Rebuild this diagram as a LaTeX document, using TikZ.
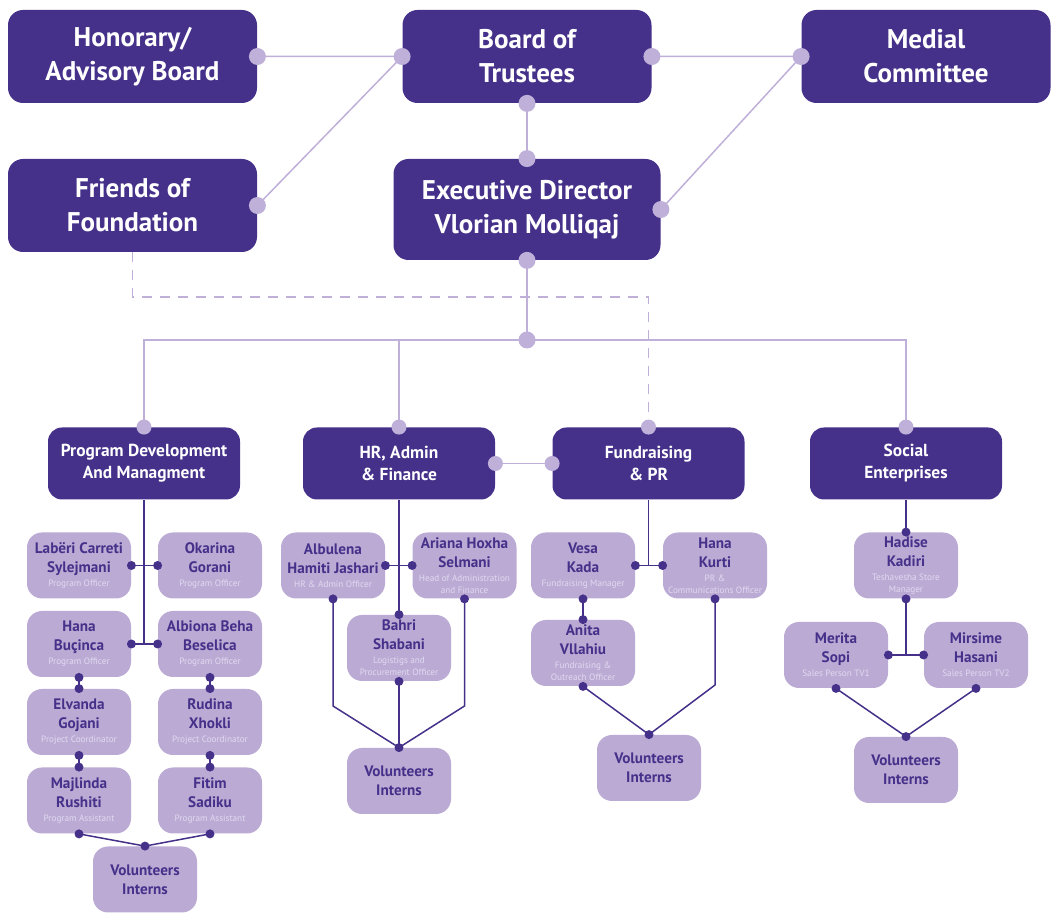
\documentclass[tikz,border=0pt]{standalone}
\usepackage{fontspec}
\setmainfont{PT Sans}
\usetikzlibrary{positioning}
\definecolor{boxdark}{HTML}{45318A}
\definecolor{boxlight}{HTML}{BBABD4}
\definecolor{linelight}{HTML}{BEB0D8}
\definecolor{rolegrey}{HTML}{E0D9F0}
\newcommand{\rl}{\fontsize{4.6}{6}\selectfont\mdseries\color{rolegrey}}
\newcommand{\who}[2]{#1\\[-2.5pt]\rl #2}

\begin{document}
\begin{tikzpicture}[x=0.5pt,y=-0.5pt,
    topbox/.style={fill=boxdark, text=white, rounded corners=7.5pt, minimum width=124.5pt, minimum height=46.5pt, align=center, inner sep=0pt, font=\fontsize{13.5}{17}\selectfont\bfseries},
    deptbox/.style={fill=boxdark, text=white, rounded corners=7pt, minimum width=96pt, minimum height=36pt, align=center, inner sep=0pt, font=\fontsize{8.7}{11}\selectfont\bfseries},
    staffbox/.style={fill=boxlight, text=boxdark, rounded corners=7.5pt, minimum width=52pt, minimum height=33pt, align=center, inner sep=0pt, font=\fontsize{7.6}{9.5}\selectfont\bfseries},
    lightline/.style={draw=linelight, line width=0.75pt},
    darkline/.style={draw=boxdark, line width=0.75pt},
    dashline/.style={draw=linelight, line width=0.75pt, dash pattern=on 5pt off 4pt},
    lightdot/.style={fill=linelight},
    darkdot/.style={fill=boxdark}
    ]
\useasboundingbox (0,0) rectangle (1051,913);

\node[topbox] (hab) at (132.5,56.5) {Honorary/\\Advisory Board};
\node[topbox] (bot) at (527,56.5) {Board of\\Trustees};
\node[topbox] (mcm) at (926,56.5) {Medial\\Committee};
\node[topbox] (fof) at (132.5,205.5) {Friends of\\Foundation};
\node[topbox, minimum width=133.5pt, minimum height=50.5pt] (exd) at (527,209.5) {Executive Director\\Vlorian Molliqaj};

\node[deptbox] (pdm) at (144,463.5) {Program Development\\And Managment};
\node[deptbox] (haf) at (399,463.5) {HR, Admin\\\& Finance};
\node[deptbox] (fpr) at (648.5,463.5) {Fundraising\\\& PR};
\node[deptbox] (sen) at (906,463.5) {Social\\Enterprises};

\node[staffbox] (lcs) at (79,565.5) {\who{Labëri Carreti\\Sylejmani}{Program Officer}};
\node[staffbox] (oga) at (210,565.5) {\who{Okarina\\Gorani}{Program Officer}};
\node[staffbox] (hbu) at (79,644) {\who{Hana\\Buçinca}{Program Officer}};
\node[staffbox] (abb) at (210,644) {\who{Albiona Beha\\Beselica}{Program Officer}};
\node[staffbox] (ego) at (79,722) {\who{Elvanda\\Gojani}{Project Coordinator}};
\node[staffbox] (rxh) at (210,722) {\who{Rudina\\Xhokli}{Project Coordinator}};
\node[staffbox] (mru) at (79,800.5) {\who{Majlinda\\Rushiti}{Program Assistant}};
\node[staffbox] (fsa) at (210,800.5) {\who{Fitim\\Sadiku}{Program Assistant}};
\node[staffbox] (vi1) at (145,879.5) {Volunteers\\Interns};

\node[staffbox] (ahj) at (333,565.5) {\who{Albulena\\Hamiti Jashari}{HR \& Admin Officer}};
\node[staffbox] (ahs) at (464.5,565.5) {\who{Ariana Hoxha\\Selmani}{Head of Administration\\[-3.5pt]\rl and Finance}};
\node[staffbox] (bsh) at (399,648) {\who{Bahri\\Shabani}{Logistigs and\\[-3.5pt]\rl Procurement Officer}};
\node[staffbox] (vi2) at (399,781) {Volunteers\\Interns};

\node[staffbox] (vka) at (583,565.5) {\who{Vesa\\Kada}{Fundraising Manager}};
\node[staffbox] (hku) at (715,565.5) {\who{Hana\\Kurti}{PR \&\\[-3.5pt]\rl Communications Officer}};
\node[staffbox] (avl) at (583,653) {\who{Anita\\Vllahiu}{Fundraising \&\\[-3.5pt]\rl Outreach Officer}};
\node[staffbox] (vi3) at (649,768) {Volunteers\\Interns};

\node[staffbox] (hka) at (906,565.5) {\who{Hadise\\Kadiri}{Teshavesha Store\\[-3.5pt]\rl Manager}};
\node[staffbox] (mso) at (836,655) {\who{Merita\\Sopi}{Sales Person TV1}};
\node[staffbox] (mha) at (976,655) {\who{Mirsime\\Hasani}{Sales Person TV2}};
\node[staffbox] (vi4) at (906,770) {Volunteers\\Interns};

\coordinate (hub) at (527,340);
\coordinate (dashturn) at (648.5,297);
\coordinate (hrbend) at (399,706);
\coordinate (frbend) at (649,685);

\draw[lightline] (hab.east) -- (bot.west) -- (fof.east);
\draw[lightline] (bot.east) -- (mcm.west) -- (exd.east);
\draw[lightline] (bot.south) -- (exd.north);
\draw[lightline] (exd.south) -- (hub);
\draw[lightline] (pdm.north) |- (hub) -| (sen.north);
\draw[lightline] (haf.north) -- (haf.north |- hub);
\draw[lightline] (haf.east) -- (fpr.west);
\draw[dashline] (fof.south) |- (dashturn) -- (fpr.north);

\draw[darkline] (pdm.south) -- (pdm.south |- hbu.east);
\draw[darkline] (lcs.east) -- (oga.west);
\draw[darkline] (hbu.east) -- (abb.west);
\draw[darkline] (hbu.south) -- (ego.north) (ego.south) -- (mru.north);
\draw[darkline] (abb.south) -- (rxh.north) (rxh.south) -- (fsa.north);
\draw[darkline] (mru.south) -- (vi1.north) -- (fsa.south);

\draw[darkline] (haf.south) -- (bsh.north);
\draw[darkline] (ahj.east) -- (ahs.west);
\draw[darkline] (bsh.south) -- (vi2.north);
\draw[darkline] (ahj.south) -- (ahj.south |- hrbend) -- (vi2.north) -- (ahs.south |- hrbend) -- (ahs.south);

\draw[darkline] (fpr.south) -- (fpr.south |- vka.east);
\draw[darkline] (vka.east) -- (hku.west);
\draw[darkline] (vka.south) -- (avl.north);
\draw[darkline] (avl.south) -- (vi3.north) -- (hku.south |- frbend) -- (hku.south);

\draw[darkline] (sen.south) -- (hka.north);
\draw[darkline] (hka.south) -- (hka.south |- mso.east);
\draw[darkline] (mso.east) -- (mha.west);
\draw[darkline] (mso.south) -- (vi4.north) -- (mha.south);

\foreach \p in {hab.east,bot.west,bot.east,mcm.west,bot.south,exd.north,fof.east,exd.east,exd.south,hub}
  \fill[lightdot] (\p) circle (4.25pt);
\foreach \p in {pdm.north,haf.north,fpr.north,sen.north,haf.east,fpr.west}
  \fill[lightdot] (\p) circle (3.75pt);
\foreach \p in {lcs.east,oga.west,hbu.east,abb.west,hbu.south,ego.north,ego.south,mru.north,abb.south,rxh.north,rxh.south,fsa.north,mru.south,fsa.south,vi1.north,
    ahj.east,ahs.west,ahj.south,ahs.south,bsh.north,bsh.south,vi2.north,
    vka.east,hku.west,vka.south,avl.north,avl.south,hku.south,vi3.north,
    hka.north,hka.south,mso.east,mha.west,mso.south,mha.south,vi4.north}
  \fill[darkdot] (\p) circle (2.25pt);
\end{tikzpicture}
\end{document}
